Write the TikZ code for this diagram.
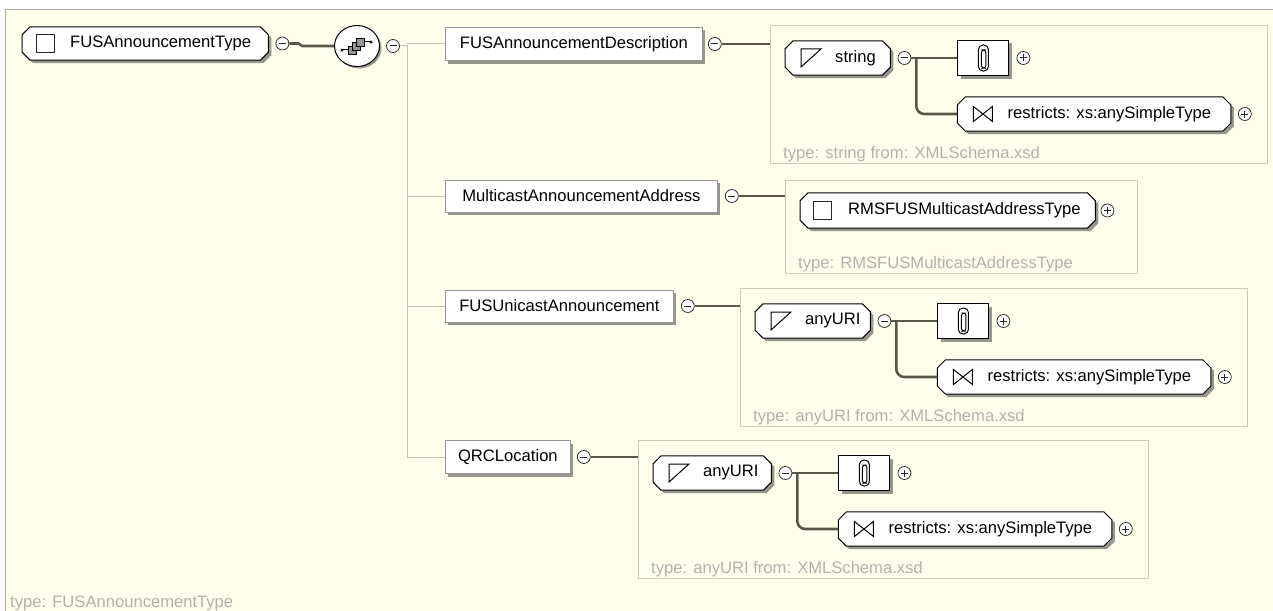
\documentclass[tikz,border=0pt]{standalone}
\usepackage{fontspec}
\setmainfont{Liberation Sans}
\usetikzlibrary{shapes.geometric,shadows,calc}
\definecolor{bgyellow}{RGB}{255,255,236}
\definecolor{framecol}{RGB}{170,170,160}
\definecolor{boxcol}{RGB}{205,205,190}
\definecolor{conncol}{RGB}{88,88,72}
\definecolor{treecol}{RGB}{195,195,185}
\definecolor{typecol}{RGB}{178,178,172}
\definecolor{elemborder}{RGB}{150,150,150}
\definecolor{shadowcol}{RGB}{150,150,140}
\definecolor{seqsq}{RGB}{150,150,150}
\tikzset{
  elem/.style={rectangle, draw=elemborder, fill=white, line width=0.8pt, inner sep=0pt,
    drop shadow={shadow xshift=3pt, shadow yshift=-3pt, fill=shadowcol, opacity=1}},
  oct/.style={rectangle, inner sep=0pt},
  clipbox/.style={rectangle, draw=black, line width=1pt, fill=white, inner sep=0pt,
    drop shadow={shadow xshift=3pt, shadow yshift=-3pt, fill=shadowcol, opacity=1}},
  seqnode/.style={ellipse, draw=black, line width=1pt, fill=white, inner sep=0pt,
    drop shadow={shadow xshift=2pt, shadow yshift=-2pt, fill=shadowcol, opacity=1}},
  pm/.style={circle, draw=black!80, line width=0.8pt, fill=white, minimum size=13pt, inner sep=0pt},
  sign/.style={line width=1pt, black!85},
  conn/.style={draw=conncol, line width=2.6pt},
  tree/.style={draw=treecol, line width=1pt},
  container/.style={rectangle, draw=boxcol, line width=1pt, inner sep=0pt, anchor=north west},
  typetxt/.style={text=typecol, anchor=base west, inner sep=0pt},
  lbl/.style={anchor=west, inner sep=0pt},
  icon/.style={line width=1pt, black},
  octline/.style={draw=black, line width=1pt, fill=white},
}
% chamfered outline around node #1, shifted by (#2,#3)
\newcommand\octpath[3]{%
  ($(#1.north west)+(8+#2,#3)$) -- ($(#1.north east)+(-8+#2,#3)$) -- ($(#1.north east)+(#2,8+#3)$) --
  ($(#1.south east)+(#2,-8+#3)$) -- ($(#1.south east)+(-8+#2,#3)$) -- ($(#1.south west)+(8+#2,#3)$) --
  ($(#1.south west)+(#2,-8+#3)$) -- ($(#1.north west)+(#2,8+#3)$) -- cycle}
\newcommand\octdraw[1]{%
  \fill[shadowcol] \octpath{#1}{3}{3};
  \path[octline] \octpath{#1}{0}{0};}
\newcommand\pmminus[1]{\draw[sign] ($(#1)+(-3.5,0)$) -- ($(#1)+(3.5,0)$);}
\newcommand\pmplus[1]{\pmminus{#1}\draw[sign] ($(#1)+(0,-3.5)$) -- ($(#1)+(0,3.5)$);}
\newcommand\paperclip[1]{%
  \draw[icon, rounded corners=4.5pt] ($(#1.center)+(-5,-13)$) rectangle ($(#1.center)+(5,13)$);
  \draw[icon, rounded corners=2.5pt] ($(#1.center)+(-2,-8)$) rectangle ($(#1.center)+(2.5,10)$);}
\newcommand\restricticon[1]{\draw[icon] ($(#1.west)+(16,-7.5)$) -- ++(0,15) -- ++(19,-15) -- ++(0,15) -- cycle;}
% #1 prefix, #2 x, #3 y, #4 octagon width, #5 label, #6 type text
\newcommand\simpletype[6]{%
  \pgfmathsetmacro\cw{#4+392}%
  \node[container, minimum width=\cw, minimum height=138] (#1c) at (#2,#3) {};
  \node[oct, minimum width=#4, minimum height=34, anchor=west] (#1o) at ($(#2,#3)+(15,33)$) {};
  \octdraw{#1o}
  \draw[icon] ($(#1o.west)+(16,-9)$) -- ++(20,0) -- ++(-20,18) -- cycle;
  \node[lbl] (#1ot) at ($(#1o.west)+(50,0)$) {#5};
  \node[pm] (#1m) at ($(#1o.east)+(14,0)$) {};
  \pmminus{#1m}
  \node[clipbox, minimum width=51, minimum height=35, anchor=west] (#1k) at ($(#1o.east)+(67,0)$) {};
  \paperclip{#1k}
  \node[pm] (#1kp) at ($(#1k.east)+(14,0)$) {};
  \pmplus{#1kp}
  \node[oct, minimum width=273, minimum height=34, anchor=west] (#1r) at ($(#1o.east)+(67,56)$) {};
  \octdraw{#1r}
  \restricticon{#1r}
  \node[lbl] (#1rt) at ($(#1r.west)+(50,0)$) {restricts: xs:anySimpleType};
  \node[pm] (#1rp) at ($(#1r.east)+(14,0)$) {};
  \pmplus{#1rp}
  \draw[conn] (#1m.east) -- (#1k.west |- #1m);
  \draw[conn, rounded corners=8pt] ($(#1m.east)+(5,0)$) |- (#1r.west);
  \node[typetxt] (#1t) at ($(#1c.south west)+(13,-6)$) {#6};
}
\begin{document}
\begin{tikzpicture}[x=1pt, y=-1pt, font=\fontsize{16.6}{20}\selectfont]
\useasboundingbox (0,0) rectangle (1273,610);
\clip (0,0) rectangle (1273,610);
\fill[white] (0,0) rectangle (1273,610);
\fill[bgyellow] (5,10) rectangle (1290,630);
\draw[framecol, line width=1pt] (5,630) -- (5,10) -- (1290,10);
\node[typetxt] (roottype) at (10,607) {type: FUSAnnouncementType};

% root
\node[oct, minimum width=246, minimum height=33, anchor=west] (root) at (22,43.5) {};
\octdraw{root}
\draw[line width=1pt, black!85] ($(root.west)+(14,-9)$) rectangle ++(18,18);
\node[lbl] (roott) at ($(root.west)+(48,0)$) {FUSAnnouncementType};
\node[pm] (m0) at ($(root.east)+(14,0)$) {};
\pmminus{m0}

% sequence
\node[seqnode, minimum width=45, minimum height=41] (seq) at (357,46) {};
\fill[black] ($(seq.center)+(-15,4)$) circle (1.6);
\draw[line width=1pt] ($(seq.center)+(-15,4)$) -- ($(seq.center)+(-9,4)$);
\draw[line width=0.8pt, fill=seqsq] ($(seq.center)+(-9,0)$) rectangle ++(8,8);
\draw[line width=0.8pt, fill=seqsq] ($(seq.center)+(-5,-4)$) rectangle ++(8,8);
\draw[line width=0.8pt, fill=seqsq] ($(seq.center)+(-1,-8)$) rectangle ++(8,8);
\draw[line width=1pt] ($(seq.center)+(7,-4)$) -- ($(seq.center)+(14,-4)$);
\fill[black] ($(seq.center)+(14,-4)$) circle (1.6);
\draw[conn] (m0.east) -- ++(9,0) -- ++(4,2.5) -- (seq.west);
\node[pm] (m1) at ($(seq.east)+(13,0)$) {};
\pmminus{m1}

% elements
\node[elem, minimum width=257, minimum height=33, anchor=west] (e1) at (445,44) {FUSAnnouncementDescription};
\node[elem, minimum width=272, minimum height=32, anchor=west] (e2) at (445,196) {MulticastAnnouncementAddress};
\node[elem, minimum width=228, minimum height=32, anchor=west] (e3) at (445,306) {FUSUnicastAnnouncement};
\node[elem, minimum width=125, minimum height=33, anchor=west] (e4) at (445,457) {QRCLocation};

% tree
\draw[tree] (m1.east) -| ($(e4.west)+(-38,0)$) -- (e4.west);
\draw[tree] (e1.west) -- ++(-38,0);
\draw[tree] (e2.west) -- ++(-38,0);
\draw[tree] (e3.west) -- ++(-38,0);

% minus after elements
\node[pm] (me1) at ($(e1.east)+(12,0)$) {};
\pmminus{me1}
\node[pm] (me2) at ($(e2.east)+(14,0)$) {};
\pmminus{me2}
\node[pm] (me3) at ($(e3.east)+(14,0)$) {};
\pmminus{me3}
\node[pm] (me4) at ($(e4.east)+(13,0)$) {};
\pmminus{me4}

% containers
\simpletype{a}{770}{25}{105}{string}{type: string from: XMLSchema.xsd}
\simpletype{b}{740}{288}{115}{anyURI}{type: anyURI from: XMLSchema.xsd}
\simpletype{d}{638}{440}{118}{anyURI}{type: anyURI from: XMLSchema.xsd}

% container 2 (complex type)
\node[container, minimum width=352, minimum height=93] (c2) at (785,180) {};
\node[oct, minimum width=295, minimum height=35, anchor=west] (rms) at (800,210.5) {};
\octdraw{rms}
\draw[line width=1pt, black!85] ($(rms.west)+(13,-9)$) rectangle ++(18,18);
\node[lbl] (rmst) at ($(rms.west)+(48,0)$) {RMSFUSMulticastAddressType};
\node[pm] (rmsp) at ($(rms.east)+(12,0)$) {};
\pmplus{rmsp}
\node[typetxt] (c2t) at ($(c2.south west)+(13,-6)$) {type: RMSFUSMulticastAddressType};

% connectors element -> type
\draw[conn] (me1.east) -- (ac.west |- me1);
\draw[conn] (me2.east) -- (c2.west |- me2);
\draw[conn] (me3.east) -- (bc.west |- me3);
\draw[conn] (me4.east) -- (dc.west |- me4);
\end{tikzpicture}
\end{document}
